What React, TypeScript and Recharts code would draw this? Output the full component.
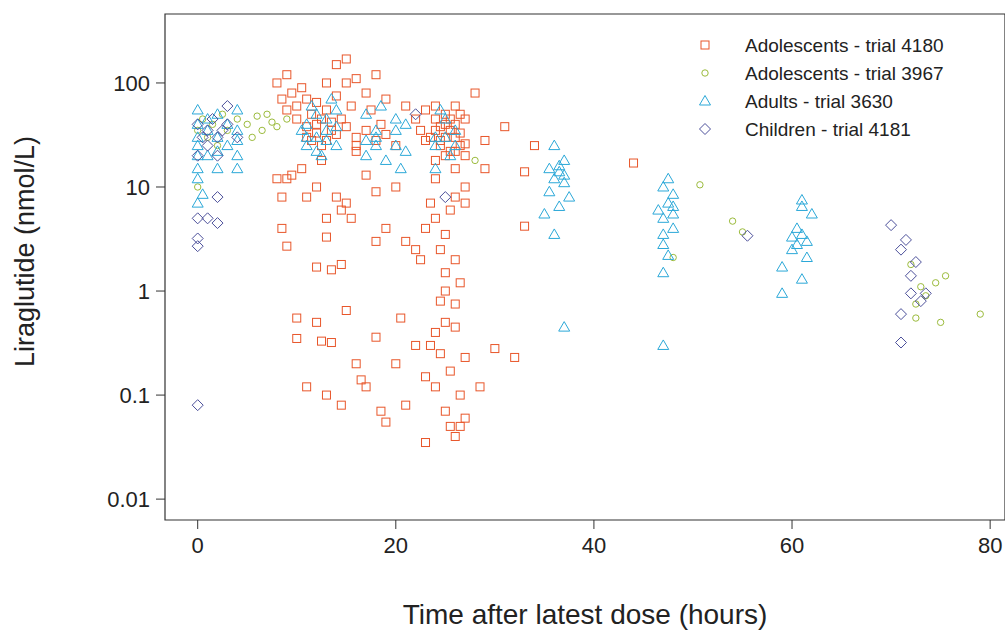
import React from "react";
import { ScatterChart, Scatter, XAxis, YAxis, ReferenceArea } from "recharts";

const orangeX = [8,8.5,9,9,9.5,10,10,10.5,11,11,11.5,12,12,12.5,13,13,13.5,14,14,14.5,15,15,15.5,16,16,17,17.5,18,18.5,19,20,21,22,22.5,23,23.5,24,24.5,25,25,25.5,26,26,26.5,27,27,24,25,26.5,23,24,26,
11,11.5,12,12.5,13,13.5,14,15,16,17,18,19,24,24.5,25,25.5,26,26.5,27,25.5,24.5,26,
8,9,9.5,10.5,11,12,13,14,14.5,15,15.5,16,17,18,18,19,20,21,22,22.5,23,24,24.5,25,25,25.5,26,26,26.5,27,24,23.5,27,12.5,9,8.5,12,13,13.5,14.5,8.5,
10,10,11,12,12.5,13,13.5,14.5,15,16,16.5,17,18,18.5,19,20,20.5,21,22,23,23.5,24,24.5,24.5,25,25,25.5,25.5,26,26,26.5,26.5,27,27,25,26,24,23,
28,29,30,28.5,31,32,33,33,34,44,29];
const orangeY = [100,70,120,55,80,60,45,90,30,70,50,40,65,25,100,55,35,150,75,45,170,100,60,110,30,80,55,120,40,70,25,60,45,35,55,30,45,25,40,20,35,30,15,25,20,45,60,50,50,28,18,60,
38,28,33,45,28,42,32,38,25,35,28,32,35,28,30,22,40,33,26,45,38,22,
12,12,13,15,8,10,5,8,6,7,5,22,13,9,3,4,10,3,2.5,2,4,5,2.5,3.5,1.5,6,8,2,1.2,10,12,7,7,18,2.7,4,1.7,3.3,1.6,1.8,8,
0.55,0.35,0.12,0.5,0.33,0.1,0.32,0.08,0.65,0.2,0.14,0.12,0.36,0.07,0.055,0.2,0.55,0.08,0.3,0.035,0.3,0.12,0.25,0.8,0.5,0.07,0.05,0.17,0.04,0.45,0.1,0.05,0.06,0.23,1,0.75,0.4,0.15,
80,28,0.28,0.12,38,0.23,14,4.2,25,17,15];

const greenX = [0,0,0.5,1,1.5,2,2.5,3,4,5,5.5,6,6.5,7,7.5,8,9,28,48,50.7,54,55,72,72.5,73,73.5,74.5,75,75.5,79,72.5];
const greenY = [10,35,45,30,40,25,50,35,45,40,30,48,35,50,42,38,45,18,2.1,10.5,4.7,3.7,1.8,0.75,1.1,0.9,1.2,0.5,1.4,0.6,0.55];

const blueX = [0,0,0,0,0,0,0,1,1,1,2,2,2,3,3,4,4,4,4,0.5,0,2,4,
11,11,11.5,12,12,12.5,13,13,14,14,10.5,17,17,18,18,18.5,20,20,20.5,21,24,24,25,25.5,26,24.5,19,13.5,11,12,13,14,17,18,20,21,24,25,26,
35,35.5,36,36,36.5,37,37,37.5,36,37,35.5,36.5,37,36.5,
47,47,47,47,47.5,47.5,48,48,47,48,46.5,47.5,47,48,
59,59,60,60.5,61,61,61,61.5,62,60,61.5,61,60.5];
const blueY = [15,25,40,55,7,12,30,20,45,35,15,50,30,25,40,20,55,15,35,8.5,20,22,28,
40,25,60,30,50,20,45,35,25,55,35,50,20,35,30,60,25,45,15,40,30,15,45,20,35,55,18,70,30,22,28,38,28,25,35,22,25,30,25,
5.5,9,12,25,16,18,13,8,3.5,0.45,15,6.5,11,14,
10,5,2.8,1.5,7,12,4,8.5,0.3,5.5,6,2.2,3.5,6.5,
1.7,0.95,2.5,4,7.5,3.5,1.3,3,5.5,3.3,2.1,6.5,2.8];

const purpleX = [0,0,0,0,0,0,0.5,1,1,1.5,2,2,2.5,3,3,2,4,22,25,55.5,70,71,71.5,71,72,72,73,71,72.5,73.5,1,2];
const purpleY = [40,20,5,3.2,2.7,0.08,30,5,25,45,4.5,20,35,60,40,8,30,50,8,3.4,4.3,2.5,3.1,0.6,1.4,0.95,0.8,0.32,1.9,0.95,35,30];

const yTicks = [0.01, 0.1, 1, 10, 100];
const xTicks = [0, 20, 40, 60, 80];

const zip = (xs: number[], ys: number[]) => xs.map((x, i) => ({ x, y: ys[i] }));

const ORANGE = "#E8562A", GREEN = "#9BBB3C", BLUE = "#2BA8D8", NAVY = "#4B4F9A";

const Sq = (c: string) => (p: any) => <rect x={p.cx - 4} y={p.cy - 4} width={8} height={8} fill="none" stroke={c} strokeWidth={1} />;
const Ci = (c: string) => (p: any) => <circle cx={p.cx} cy={p.cy} r={3.2} fill="none" stroke={c} strokeWidth={1} />;
const Tr = (c: string) => (p: any) => <polygon points={`${p.cx},${p.cy - 5.5} ${p.cx - 5.5},${p.cy + 4} ${p.cx + 5.5},${p.cy + 4}`} fill="none" stroke={c} strokeWidth={1} />;
const Di = (c: string) => (p: any) => <polygon points={`${p.cx},${p.cy - 5.5} ${p.cx + 5.5},${p.cy} ${p.cx},${p.cy + 5.5} ${p.cx - 5.5},${p.cy}`} fill="none" stroke={c} strokeWidth={1} />;

const legend = [
  { label: "Adolescents - trial 4180", shape: Sq(ORANGE) },
  { label: "Adolescents - trial 3967", shape: Ci(GREEN) },
  { label: "Adults - trial 3630", shape: Tr(BLUE) },
  { label: "Children - trial 4181", shape: Di(NAVY) },
];

export default function App() {
  const font = "Arial, 'Liberation Sans', sans-serif";
  return (
    <div style={{ position: "relative", width: 1005, height: 634, fontFamily: font, background: "#fff" }}>
      <style>{`body{margin:0}`}</style>
      <ScatterChart width={1005} height={634} margin={{ top: 14, right: 0, bottom: 0, left: 0 }}>
        <XAxis type="number" dataKey="x" domain={[-3.3, 81.5]} ticks={xTicks} allowDataOverflow
          height={114} tickSize={9} tickMargin={8} axisLine={false} tickLine={{ stroke: "#333" }}
          tick={{ fill: "#222", fontSize: 22, fontFamily: font }}
          label={{ value: "Time after latest dose (hours)", position: "insideBottom", offset: 10, fill: "#222", fontSize: 28, fontFamily: font }} />
        <YAxis type="number" dataKey="y" scale="log" domain={[0.0063, 460]} ticks={yTicks} allowDataOverflow
          width={165} tickSize={9} tickMargin={6} axisLine={false} tickLine={{ stroke: "#333" }}
          tickFormatter={(v: number) => String(v)}
          tick={{ fill: "#222", fontSize: 22, fontFamily: font }}
          label={{ value: "Liraglutide (nmol/L)", angle: -90, position: "insideLeft", offset: 24, dy: 100, fill: "#222", fontSize: 27, fontFamily: font }} />
        <ReferenceArea x1={-3.3} x2={81.5} y1={0.0063} y2={460} fill="none" stroke="#333" strokeWidth={1.2} ifOverflow="extendDomain" />
        <Scatter data={zip(orangeX, orangeY)} shape={Sq(ORANGE)} isAnimationActive={false} />
        <Scatter data={zip(greenX, greenY)} shape={Ci(GREEN)} isAnimationActive={false} />
        <Scatter data={zip(blueX, blueY)} shape={Tr(BLUE)} isAnimationActive={false} />
        <Scatter data={zip(purpleX, purpleY)} shape={Di(NAVY)} isAnimationActive={false} />
      </ScatterChart>
      <svg style={{ position: "absolute", left: 690, top: 30 }} width={315} height={120}>
        {legend.map((l, i) => (
          <g key={l.label}>
            {l.shape({ cx: 15, cy: 15 + i * 28 })}
            <text x={55} y={22 + i * 28} fontSize={19} fill="#222" fontFamily={font}>{l.label}</text>
          </g>
        ))}
      </svg>
    </div>
  );
}
